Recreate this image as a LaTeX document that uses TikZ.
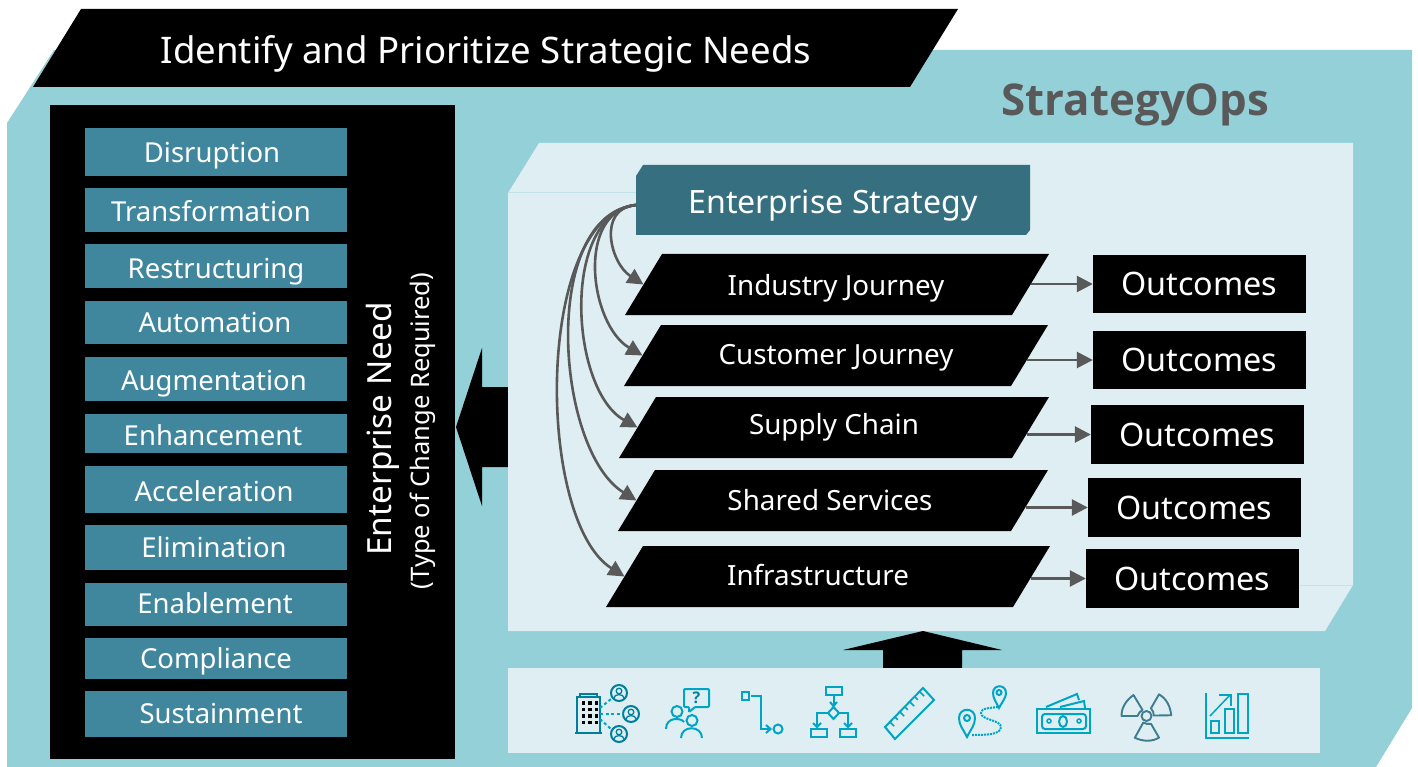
\documentclass[tikz,border=0pt]{standalone}
\usepackage{fontspec}
\setmainfont{Noto Sans}
\newfontfamily\opsfont{Open Sans}
\usetikzlibrary{arrows.meta}
\definecolor{tealbg}{HTML}{94D0D7}
\definecolor{panelbg}{HTML}{DEEEF2}
\definecolor{panelline}{HTML}{C4E3E9}
\definecolor{barblue}{HTML}{40879D}
\definecolor{stratblue}{HTML}{367080}
\definecolor{flowgray}{HTML}{595959}
\definecolor{iconblue}{HTML}{00A5C4}
\definecolor{icondark}{HTML}{007F9C}
\definecolor{radblue}{HTML}{3F7C90}
\tikzset{
    needbar/.style={shape=rectangle,fill=barblue,minimum width=262pt,inner sep=0pt},
    needtext/.style={text=white,font=\fontsize{27.5}{32}\selectfont},
    journey/.style={text=white,inner sep=0pt,font=\fontsize{27.8}{32}\selectfont},
    outbox/.style={shape=rectangle,fill=black,text=white,minimum width=213pt,inner sep=0pt,font=\fontsize{32.3}{36}\selectfont},
    flow/.style={draw=flowgray,line width=2.6pt,-{Triangle[length=16pt,width=16pt]}},
    icon/.style={draw=iconblue,line width=2pt,fill=none},
    icond/.style={draw=icondark,line width=2pt,fill=none},
    icondots/.style={draw=iconblue,line width=2pt,densely dotted},
    radblade/.style={draw=radblue,line width=1.9pt,fill=none,line join=round}
}
\begin{document}
\begin{tikzpicture}[x=1pt,y=-1pt]
    \useasboundingbox (0,0) rectangle (1418,767);
    \fill[tealbg] (7,123) -- (54,50) -- (1412,50) -- (1412,708) -- (1376,767) -- (7,767) -- cycle;
    \fill[black] (81,9) -- (958,9) -- (910,87) -- (33,87) -- cycle;
    \node[text=white,font=\fontsize{36.6}{42}\selectfont] (TITLE) at (486,54) {Identify and Prioritize Strategic Needs};
    \node[text=flowgray,font=\opsfont\fontsize{43.8}{50}\selectfont\bfseries] (OPS) at (1135.5,105) {StrategyOps};

    \fill[black] (50,105) rectangle (455,759);
    \foreach \n/\y/\h/\dx/\dy/\t in {1/152/48/-4/4/Disruption,2/210/44/-5/1/Transformation,3/266/44/0/6/Restructuring,4/322.5/43/-1/0/Automation,5/379/44/-2/5/Augmentation,6/433.5/39/-3/2/Enhancement,7/489.5/47/-2/2/Acceleration,8/547.5/45/-2/0/Elimination,9/604.5/43/-1/-1/Enablement,10/658.5/41/0/3/Compliance,11/714/46/5/-1/Sustainment}
        \node[needbar,minimum height=\h pt,label={[needtext,xshift=\dx pt,yshift=-\dy pt]center:\t}] (B\n) at (216,\y) {};
    \node[text=white,rotate=90,font=\fontsize{33.3}{38}\selectfont] (NEED) at (383,429) {Enterprise Need};
    \node[text=white,rotate=90,font=\fontsize{25.5}{30}\selectfont] (TYPE) at (423,431) {(Type of Change Required)};
    \fill[black] (456,427) -- (482,348) -- (482,387) -- (508,387) -- (508,467) -- (482,467) -- (482,506) -- cycle;

    \fill[panelbg] (508,193) -- (539,143) -- (1353,143) -- (1353,585) -- (1325,631) -- (508,631) -- cycle;
    \draw[panelline,line width=1pt] (508,193) -- (636,193);
    \draw[panelline,line width=1pt] (1300,585) -- (1353,585);
    \fill[black] (923,631) -- (1002,650) -- (962,650) -- (962,668) -- (883,668) -- (883,650) -- (843,650) -- cycle;
    \fill[panelbg] (508,668) rectangle (1320,753);

    \fill[stratblue] (636,176) -- (643,165) -- (1030,165) -- (1030,230) -- (1026,235) -- (636,235) -- cycle;
    \node[text=white,font=\fontsize{32.1}{36}\selectfont] (ES) at (833,206) {Enterprise Strategy};
    \coordinate (ESOUT) at (636,205);

    \foreach \n/\xl/\xr/\yt/\tx/\ty/\t in {1/625/1049/254/836/288/Industry Journey,2/624/1048/325/836/358/Customer Journey,3/619/1049/397/834/427/Supply Chain,4/618/1048/470/830/500/Shared Services,5/606/1050/546/818/575/Infrastructure} {
        \fill[black] (\xl,\yt+61) -- (\xl+37,\yt) -- (\xr,\yt) -- (\xr-37,\yt+61) -- cycle;
        \coordinate (J\n L) at (\xl+18.5,\yt+30.5);
        \coordinate (J\n R) at (\xr-18.5,\yt+30.5);
        \node[journey] (J\n) at (\tx,\ty) {\t};
    }

    \node[outbox,minimum height=58pt] (O1) at (1199.5,284) {Outcomes};
    \node[outbox,minimum height=58pt] (O2) at (1199.5,360) {Outcomes};
    \node[outbox,minimum height=59pt] (O3) at (1197.5,434.5) {Outcomes};
    \node[outbox,minimum height=59pt] (O4) at (1194.5,507.5) {Outcomes};
    \node[outbox,minimum height=59pt] (O5) at (1192.5,578.5) {Outcomes};

    \draw[flow] (ESOUT) .. controls (597,208) and (610,263) .. (J1L);
    \draw[flow] (ESOUT) .. controls (575,212) and (590,325) .. (J2L);
    \draw[flow] (ESOUT) .. controls (560,215) and (570,390) .. (J3L);
    \draw[flow] (ESOUT) .. controls (540,215) and (555,450) .. (J4L);
    \draw[flow] (ESOUT) .. controls (535,215) and (535,520) .. (J5L);

    \draw[flow] (J1R |- O1.west) -- (O1.west);
    \draw[flow] ([xshift=-3pt]J2R |- O2.west) -- (O2.west);
    \draw[flow] ([xshift=-4pt]J3R |- O3.west) -- (O3.west);
    \draw[flow] ([xshift=-4pt]J4R |- O4.west) -- (O4.west);
    \draw[flow] ([xshift=-1pt]J5R |- O5.west) -- (O5.west);

    % icons
    \draw[icond] (577,697) rectangle (600,733);
    \draw[icond] (580,697) -- (580,694) -- (597,694) -- (597,697);
    \draw[icond] (575,733) -- (602,733);
    \foreach \r in {0,1,2,3}
        \foreach \c in {0,1,2}
            \fill[black] (581.5+\c*6.5,701+\r*6.5) rectangle +(3.5,3.5);
    \foreach \x/\y in {619/693,631/714,619/734} {
        \begin{scope}[shift={(\x,\y)}]
            \draw[icond] (0,0) circle (8);
            \draw[icond,line width=1.3pt] (0,-2) circle (2.8);
            \draw[icond,line width=1.3pt] (-5,5) .. controls (-5,0.5) and (5,0.5) .. (5,5);
        \end{scope}
    }
    \draw[icon,dash pattern=on 3pt off 2.5pt] (600,708) -- (611,699);
    \draw[icon,dash pattern=on 3pt off 2.5pt] (600,713.5) -- (623,713.5);
    \draw[icon,dash pattern=on 3pt off 2.5pt] (600,719) -- (611,729);

    \draw[icon,rounded corners=1pt] (684,689) -- (709,689) -- (709,707) -- (695,707) -- (689,712) -- (689,707) -- (684,707) -- cycle;
    \node[text=icondark,font=\opsfont\fontsize{16}{20}\selectfont\bfseries] (ASK) at (696.5,698) {?};
    \draw[icon] (677,711.5) circle (5.5);
    \draw[icon] (666,729) .. controls (666,716) and (682,718) .. (684,722);
    \draw[icon] (692,720.5) circle (5.5);
    \draw[icon] (681,738) .. controls (681,725) and (702,725) .. (702,738);

    \draw[icon] (741.5,692) rectangle (749,700);
    \draw[icon] (751,696) -- (761,696) -- (761,729) -- (770,729);
    \draw[icon] (766,725) -- (770.5,729) -- (766,733);
    \draw[icon] (778,729) circle (4.5);

    \draw[icon] (826,687) rectangle (842,695);
    \draw[icon] (833.5,695) -- (833.5,706);
    \draw[icon] (830,702) -- (833.5,706) -- (837,702);
    \draw[icon] (833.5,707) -- (839,713) -- (833.5,719) -- (828,713) -- cycle;
    \draw[icon] (828,713) -- (817,713) -- (817,727);
    \draw[icon] (813,723) -- (817,727) -- (821,723);
    \draw[icon] (839,713) -- (848,713) -- (848,727);
    \draw[icon] (844,723) -- (848,727) -- (852,723);
    \draw[icon] (811,729) rectangle (827,737);
    \draw[icon] (840,729) rectangle (856,737);

    \draw[icon,line join=miter] (885,727) -- (923,688) -- (934,700) -- (895,739) -- cycle;
    \foreach \t/\l in {0/6,1/4,2/6,3/4,4/6,5/4,6/6}
        \draw[icon,line width=1.5pt] (890+\t*5,722-\t*5) -- +(\l*.7,\l*.7);

    \draw[icon] (967,737) .. controls (963,729) and (959,725) .. (959,718) .. controls (959,707) and (975,707) .. (975,718) .. controls (975,725) and (971,729) .. (967,737) -- cycle;
    \draw[icon] (967,718) circle (3);
    \draw[icon] (999,708) .. controls (996,702) and (993,698) .. (993,693) .. controls (993,684) and (1006,684) .. (1006,693) .. controls (1006,698) and (1002,702) .. (999,708) -- cycle;
    \draw[icon] (999,692.5) circle (2.5);
    \draw[icondots] (972,735) .. controls (985,735) and (1001,735) .. (1001,727) .. controls (1001,720) and (981,720) .. (981,713) .. controls (981,708) and (990,708) .. (998,707);

    \draw[icon] (1037,709) rectangle (1090,733);
    \draw[icon,rounded corners=3pt] (1042,714) rectangle (1086,729);
    \draw[icon] (1063,721.5) ellipse (4 and 5.5);
    \draw[icon,line width=1.5pt] (1049,721) circle (2);
    \draw[icon,line width=1.5pt] (1079,721) circle (2);
    \draw[icon] (1046,707) -- (1077,694) -- (1079,700);
    \draw[icon] (1060,707) -- (1084,701) -- (1085,708);

    \foreach \a in {0,120,240} {
        \begin{scope}[shift={(1146.5,716)},rotate=\a]
            \draw[radblade] (-25,0) .. controls (-25,-9) and (-20,-16) .. (-13,-21) -- (-4,-6) .. controls (-6,-5) and (-8,-3) .. (-9,0) -- cycle;
        \end{scope}
    }
    \draw[radblade] (1146.5,716) circle (5);

    \draw[icon] (1206,693) -- (1206,738) -- (1249,738);
    \draw[icon] (1211,721) rectangle (1219,733);
    \draw[icon] (1225,709) rectangle (1234,733);
    \draw[icon] (1238,694) rectangle (1248,733);
    \draw[icon,line width=1.5pt] (1210,716) -- (1230,695);
    \draw[icon,line width=1.5pt] (1219,695) -- (1231,695) -- (1231,706);
\end{tikzpicture}
\end{document}
